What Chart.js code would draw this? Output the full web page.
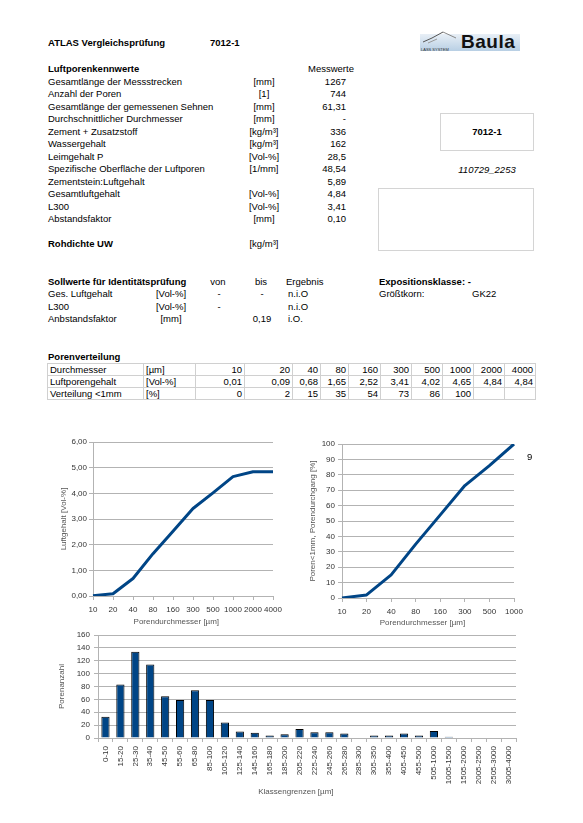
<!DOCTYPE html>
<html>
<head>
<meta charset="utf-8">
<script src="https://cdn.jsdelivr.net/npm/chart.js@4.4.0/dist/chart.umd.min.js"></script>
<style>
  html, body { margin: 0; padding: 0; background: #fff; }
  body { width: 583px; height: 823px; position: relative; overflow: hidden;
         font-family: 'Liberation Sans', Arial, sans-serif; font-size: 9.5px; color: #000; }
  .t { position: absolute; white-space: nowrap; line-height: 12px; }
  .b { font-weight: bold; }
  .i { font-style: italic; }
  .box { position: absolute; border: 1px solid #d4d4d4; box-sizing: border-box; }
  canvas { position: absolute; }
  table { position: absolute; border-collapse: collapse; table-layout: fixed; font-size: 9.5px; }
  td { border: 1px solid #d0d0d0; padding: 0 2px; height: 11px; line-height: 11px; white-space: nowrap; overflow: hidden; }
  td.n { text-align: right; }
</style>
</head>
<body>

<!-- logo -->
<div style="position:absolute;left:420px;top:34px;width:100px;height:17px;background:linear-gradient(#e8eff6,#b8cfe4);"></div>
<svg style="position:absolute;left:420px;top:28px" width="50" height="24">
  <polyline points="3,14 12,10 23,4" fill="none" stroke="#555" stroke-width="1"/>
  <polyline points="23,4 36,10" fill="none" stroke="#888" stroke-width="1"/>
  <polyline points="8,15 17,11" fill="none" stroke="#999" stroke-width="1"/>
</svg>
<div class="t" style="left:421px;top:47px;font-size:4px;line-height:5px;color:#333;">LASS SYSTEM</div>
<div class="t b" style="left:461px;top:30px;font-size:19px;line-height:24px;color:#111;letter-spacing:0.5px;">Baula</div>

<div class="box" style="left:440px;top:113px;width:94px;height:38px;"></div>
<div class="box" style="left:378px;top:188px;width:156px;height:63px;"></div>

<canvas id="c1" width="240" height="200" style="left:50px;top:432px;"></canvas>
<canvas id="c2" width="260" height="200" style="left:290px;top:432px;"></canvas>
<canvas id="c3" width="510" height="190" style="left:50px;top:625px;"></canvas>

<script>
// Luftporenkennwerte
const kennLabels = ["Gesamtlänge der Messstrecken", "Anzahl der Poren", "Gesamtlänge der gemessenen Sehnen",
  "Durchschnittlicher Durchmesser", "Zement + Zusatzstoff", "Wassergehalt", "Leimgehalt P",
  "Spezifische Oberfläche der Luftporen", "Zementstein:Luftgehalt", "Gesamtluftgehalt", "L300", "Abstandsfaktor"];
const kennUnits = ["[mm]", "[1]", "[mm]", "[mm]", "[kg/m³]", "[kg/m³]", "[Vol-%]", "[1/mm]", "", "[Vol-%]", "[Vol-%]", "[mm]"];
const kennValues = ["1267", "744", "61,31", "-", "336", "162", "28,5", "48,54", "5,89", "4,84", "3,41", "0,10"];

// Sollwerte
const sollLabels = ["Ges. Luftgehalt", "L300", "Anbstandsfaktor"];
const sollUnits = ["[Vol-%]", "[Vol-%]", "[mm]"];
const sollVon = ["-", "-", ""];
const sollBis = ["-", "", "0,19"];
const sollErgebnis = ["n.i.O", "n.i.O", "i.O."];

// Porenverteilung
const durchmesser = [10, 20, 40, 80, 160, 300, 500, 1000, 2000, 4000];
const luftporengehalt = [0.01, 0.09, 0.68, 1.65, 2.52, 3.41, 4.02, 4.65, 4.84, 4.84];
const verteilung = [0, 2, 15, 35, 54, 73, 86, 100];

// Porenanzahl je Klasse
const klassen = ["0-10", "15-20", "25-30", "35-40", "45-50", "55-60", "65-80", "85-100", "105-120", "125-140",
  "145-160", "165-180", "185-200", "205-220", "225-240", "245-260", "265-280", "285-300", "305-350", "355-400",
  "405-450", "455-500", "505-1000", "1005-1500", "1505-2000", "2005-2500", "2505-3000", "3005-4000"];
const porenanzahl = [33, 83, 134, 114, 65, 59, 74, 59, 24, 10, 8, 4, 6, 14, 9, 9, 7, 0, 4, 4, 7, 4, 11, 2, 0, 0, 0, 0];

const de = (v, d) => v.toFixed(d).replace('.', ',');

// place a line of text, y = vertical centre
function txt(str, x, y, align, cls) {
  const d = document.createElement('div');
  d.className = 't ' + (cls || '');
  d.textContent = str;
  if (align === 'right') { d.style.left = (x - 300) + 'px'; d.style.width = '300px'; d.style.textAlign = 'right'; }
  else if (align === 'center') { d.style.left = (x - 150) + 'px'; d.style.width = '300px'; d.style.textAlign = 'center'; }
  else d.style.left = x + 'px';
  d.style.top = (y - 6) + 'px';
  document.body.appendChild(d);
}

txt("ATLAS Vergleichsprüfung", 48, 43, 'left', 'b');
txt("7012-1", 210, 43, 'left', 'b');

txt("Luftporenkennwerte", 48, 69, 'left', 'b');
txt("Messwerte", 308, 69);
for (let i = 0; i < kennLabels.length; i++) {
  let y = 82 + i * 12.45;
  txt(kennLabels[i], 48, y);
  txt(kennUnits[i], 264, y, 'center');
  txt(kennValues[i], 346, y, 'right');
}
txt("Rohdichte UW", 48, 244, 'left', 'b');
txt("[kg/m³]", 264, 244, 'center');

txt("7012-1", 487, 132, 'center', 'b');
txt("110729_2253", 487, 170, 'center', 'i');

txt("Sollwerte für Identitätsprüfung", 48, 282, 'left', 'b');
txt("von", 218, 282, 'center');
txt("bis", 261, 282, 'center');
txt("Ergebnis", 286, 282);
txt("Expositionsklasse: -", 379, 282, 'left', 'b');
txt("Größtkorn:", 379, 294);
txt("GK22", 472, 294);
for (let i = 0; i < sollLabels.length; i++) {
  let y = 294 + i * 12.5;
  txt(sollLabels[i], 48, y);
  txt(sollUnits[i], 171, y, 'center');
  txt(sollVon[i], 219, y, 'center');
  txt(sollBis[i], 262, y, 'center');
  txt(sollErgebnis[i], 288, y);
}

txt("Porenverteilung", 48, 357, 'left', 'b');

// table
const colW = [96, 52, 49, 48, 28, 28, 32, 31, 31, 31, 31, 31];
const tab = document.createElement('table');
tab.style.left = '47px'; tab.style.top = '363px'; tab.style.width = '488px';
const cg = document.createElement('colgroup');
colW.forEach(w => { const c = document.createElement('col'); c.style.width = w + 'px'; cg.appendChild(c); });
tab.appendChild(cg);
const rows = [
  ["Durchmesser", "[µm]", durchmesser.map(String)],
  ["Luftporengehalt", "[Vol-%]", luftporengehalt.map(v => de(v, 2))],
  ["Verteilung <1mm", "[%]", durchmesser.map((d, i) => i < verteilung.length ? String(verteilung[i]) : "")]
];
rows.forEach(r => {
  const tr = document.createElement('tr');
  [r[0], r[1]].forEach(s => { const td = document.createElement('td'); td.textContent = s; tr.appendChild(td); });
  r[2].forEach(s => { const td = document.createElement('td'); td.className = 'n'; td.textContent = s; tr.appendChild(td); });
  tab.appendChild(tr);
});
document.body.appendChild(tab);

txt("9", 527, 457, 'left');

// charts
const FAM = "'Liberation Sans', Arial, sans-serif";
const fTick = { family: FAM, size: 8 };
const fTitle = { family: FAM, size: 8 };
const grau = '#b3b3b3';
const blau = '#004586';

const basis = {
  responsive: false, animation: false, devicePixelRatio: 1,
  plugins: { legend: { display: false }, tooltip: { enabled: false } }
};

// axis titles sit a little left of the plot centre in the original
new Chart(document.getElementById('c1'), {
  type: 'line',
  data: {
    labels: durchmesser.map(String),
    datasets: [{ data: luftporengehalt, borderColor: blau, borderWidth: 3, pointRadius: 0, tension: 0, borderJoinStyle: 'round' }]
  },
  options: Object.assign({}, basis, {
    layout: { padding: { top: 10, right: 17, left: 0, bottom: 0 } },
    scales: {
      x: {
        offset: false,
        grid: { drawOnChartArea: false, tickLength: 4, color: grau },
        border: { color: grau },
        ticks: { autoSkip: false, maxRotation: 0, padding: 5, color: '#333', font: fTick },
        title: { display: true, text: 'Porendurchmesser [µm]      ', color: '#555', font: fTitle, padding: { top: 0, bottom: 5 } },
        afterFit: s => { s.height = 36; }
      },
      y: {
        min: 0, max: 6,
        ticks: { stepSize: 1, padding: 2, color: '#333', font: fTick, callback: v => de(v, 2) },
        grid: { color: grau, tickLength: 4 },
        border: { color: grau },
        title: { display: true, text: 'Luftgehalt [Vol-%]', color: '#555', font: fTitle, padding: { top: 9, bottom: 0 } },
        afterFit: s => { s.width = 43; }
      }
    }
  })
});

new Chart(document.getElementById('c2'), {
  type: 'line',
  data: {
    labels: durchmesser.slice(0, verteilung.length).map(String),
    datasets: [{ data: verteilung, borderColor: blau, borderWidth: 3, pointRadius: 0, tension: 0, borderJoinStyle: 'round' }]
  },
  options: Object.assign({}, basis, {
    layout: { padding: { top: 12, right: 36, left: 0, bottom: 0 } },
    scales: {
      x: {
        offset: false,
        grid: { drawOnChartArea: false, tickLength: 4, color: grau },
        border: { color: grau },
        ticks: { autoSkip: false, maxRotation: 0, padding: 5, color: '#333', font: fTick },
        title: { display: true, text: 'Porendurchmesser [µm]     ', color: '#555', font: fTitle, padding: { top: 0, bottom: 4 } },
        afterFit: s => { s.height = 34; }
      },
      y: {
        min: 0, max: 100,
        ticks: { stepSize: 10, padding: 3, color: '#333', font: fTick },
        grid: { color: grau, tickLength: 4 },
        border: { color: grau },
        title: { display: true, text: 'Poren<1mm, Porendurchgang [%]', color: '#555', font: fTitle, padding: { top: 18, bottom: 0 } },
        afterFit: s => { s.width = 52; }
      }
    }
  })
});

new Chart(document.getElementById('c3'), {
  type: 'bar',
  data: {
    labels: klassen,
    datasets: [{ data: porenanzahl, backgroundColor: blau, borderColor: '#000', borderWidth: 1,
      barPercentage: 0.55, categoryPercentage: 1 }]
  },
  options: Object.assign({}, basis, {
    layout: { padding: { top: 10, right: 44, left: 0, bottom: 0 } },
    scales: {
      x: {
        grid: { drawOnChartArea: false, tickLength: 4, color: grau },
        border: { color: grau },
        ticks: { autoSkip: false, minRotation: 90, maxRotation: 90, padding: 4, color: '#333', font: fTick },
        title: { display: true, text: 'Klassengrenzen [µm]          ', color: '#555', font: fTitle, padding: { top: 0, bottom: 18 } },
        afterFit: s => { s.height = 77; }
      },
      y: {
        min: 0, max: 160,
        ticks: { stepSize: 20, padding: 4, color: '#333', font: fTick },
        grid: { color: grau, tickLength: 4 },
        border: { color: grau },
        title: { display: true, text: 'Porenanzahl', color: '#555', font: fTitle, padding: { top: 7, bottom: 0 } },
        afterFit: s => { s.width = 48; }
      }
    }
  })
});
</script>
</body>
</html>
